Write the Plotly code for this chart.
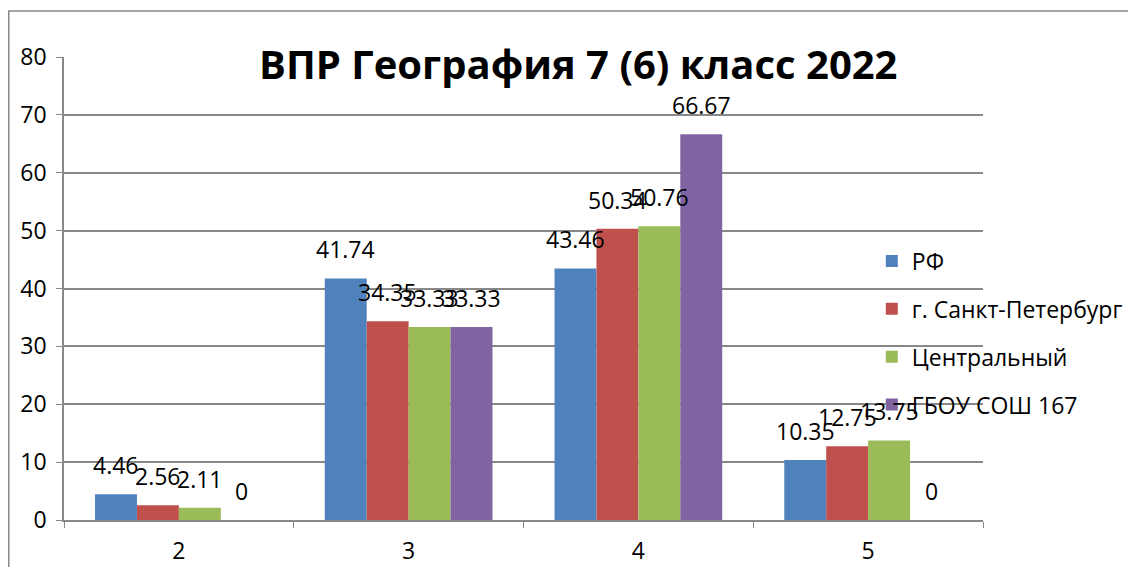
import plotly.graph_objects as go

categories = ["2", "3", "4", "5"]
series_names = ["РФ", "г. Санкт-Петербург", "Центральный", "ГБОУ СОШ 167"]
rf = [4.46, 41.74, 43.46, 10.35]
spb = [2.56, 34.35, 50.34, 12.75]
central = [2.11, 33.33, 50.76, 13.75]
school = [0, 33.33, 66.67, 0]
colors = ["#4F81BD", "#C0504D", "#9BBB59", "#8064A2"]

FONT = "Open Sans"
bargap = 0.27
n = len(series_names)
bar_w = (1 - bargap) / n

fig = go.Figure()
for i, (name, vals) in enumerate(zip(series_names, [rf, spb, central, school])):
    fig.add_trace(go.Bar(x=categories, y=vals, name=name, legendgroup=name,
                         marker=dict(color=colors[i], line=dict(width=0))))
    # value labels sit a bit above the bar tops, like in the original
    for j, v in enumerate(vals):
        fig.add_annotation(x=j + (i - (n - 1) / 2) * bar_w, y=v, text=f"{v:g}",
                           showarrow=False, yanchor="bottom", yshift=11,
                           font=dict(size=23, color="#000"))

fig.update_layout(
    width=1136, height=567,
    font=dict(family=FONT, size=23, color="#000"),
    title=dict(text="<b>ВПР География 7 (6) класс 2022</b>", x=0.502, xanchor="center",
               y=0.9, yanchor="middle", font=dict(size=40)),
    margin=dict(l=56, r=161, t=49, b=55),
    plot_bgcolor="white", paper_bgcolor="white",
    barmode="group", bargap=bargap, bargroupgap=0,
    showlegend=True,
    legend=dict(x=0.879, y=0.404, xanchor="left", yanchor="middle",
                bgcolor="rgba(0,0,0,0)", font=dict(size=23),
                tracegroupgap=15),
    xaxis=dict(showline=True, linecolor="#888", linewidth=1.5, ticks="outside",
               tickson="boundaries", ticklen=6, tickcolor="#888", showgrid=False,
               tickfont=dict(size=23), ticklabelstandoff=10, automargin=False),
    yaxis=dict(range=[0, 80], dtick=10, showline=True, linecolor="#888", linewidth=1.5,
               ticks="outside", ticklen=6, tickcolor="#888", showgrid=True,
               gridcolor="#888", gridwidth=1.5, zeroline=False,
               tickfont=dict(size=23), ticklabelstandoff=5, automargin=False),
)

fig.add_shape(type="rect", xref="paper", yref="paper",
              x0=-0.0601, x1=1.18, y0=-0.2, y1=1.0994,
              line=dict(color="#888", width=1.5))

fig.write_html("out.html")
